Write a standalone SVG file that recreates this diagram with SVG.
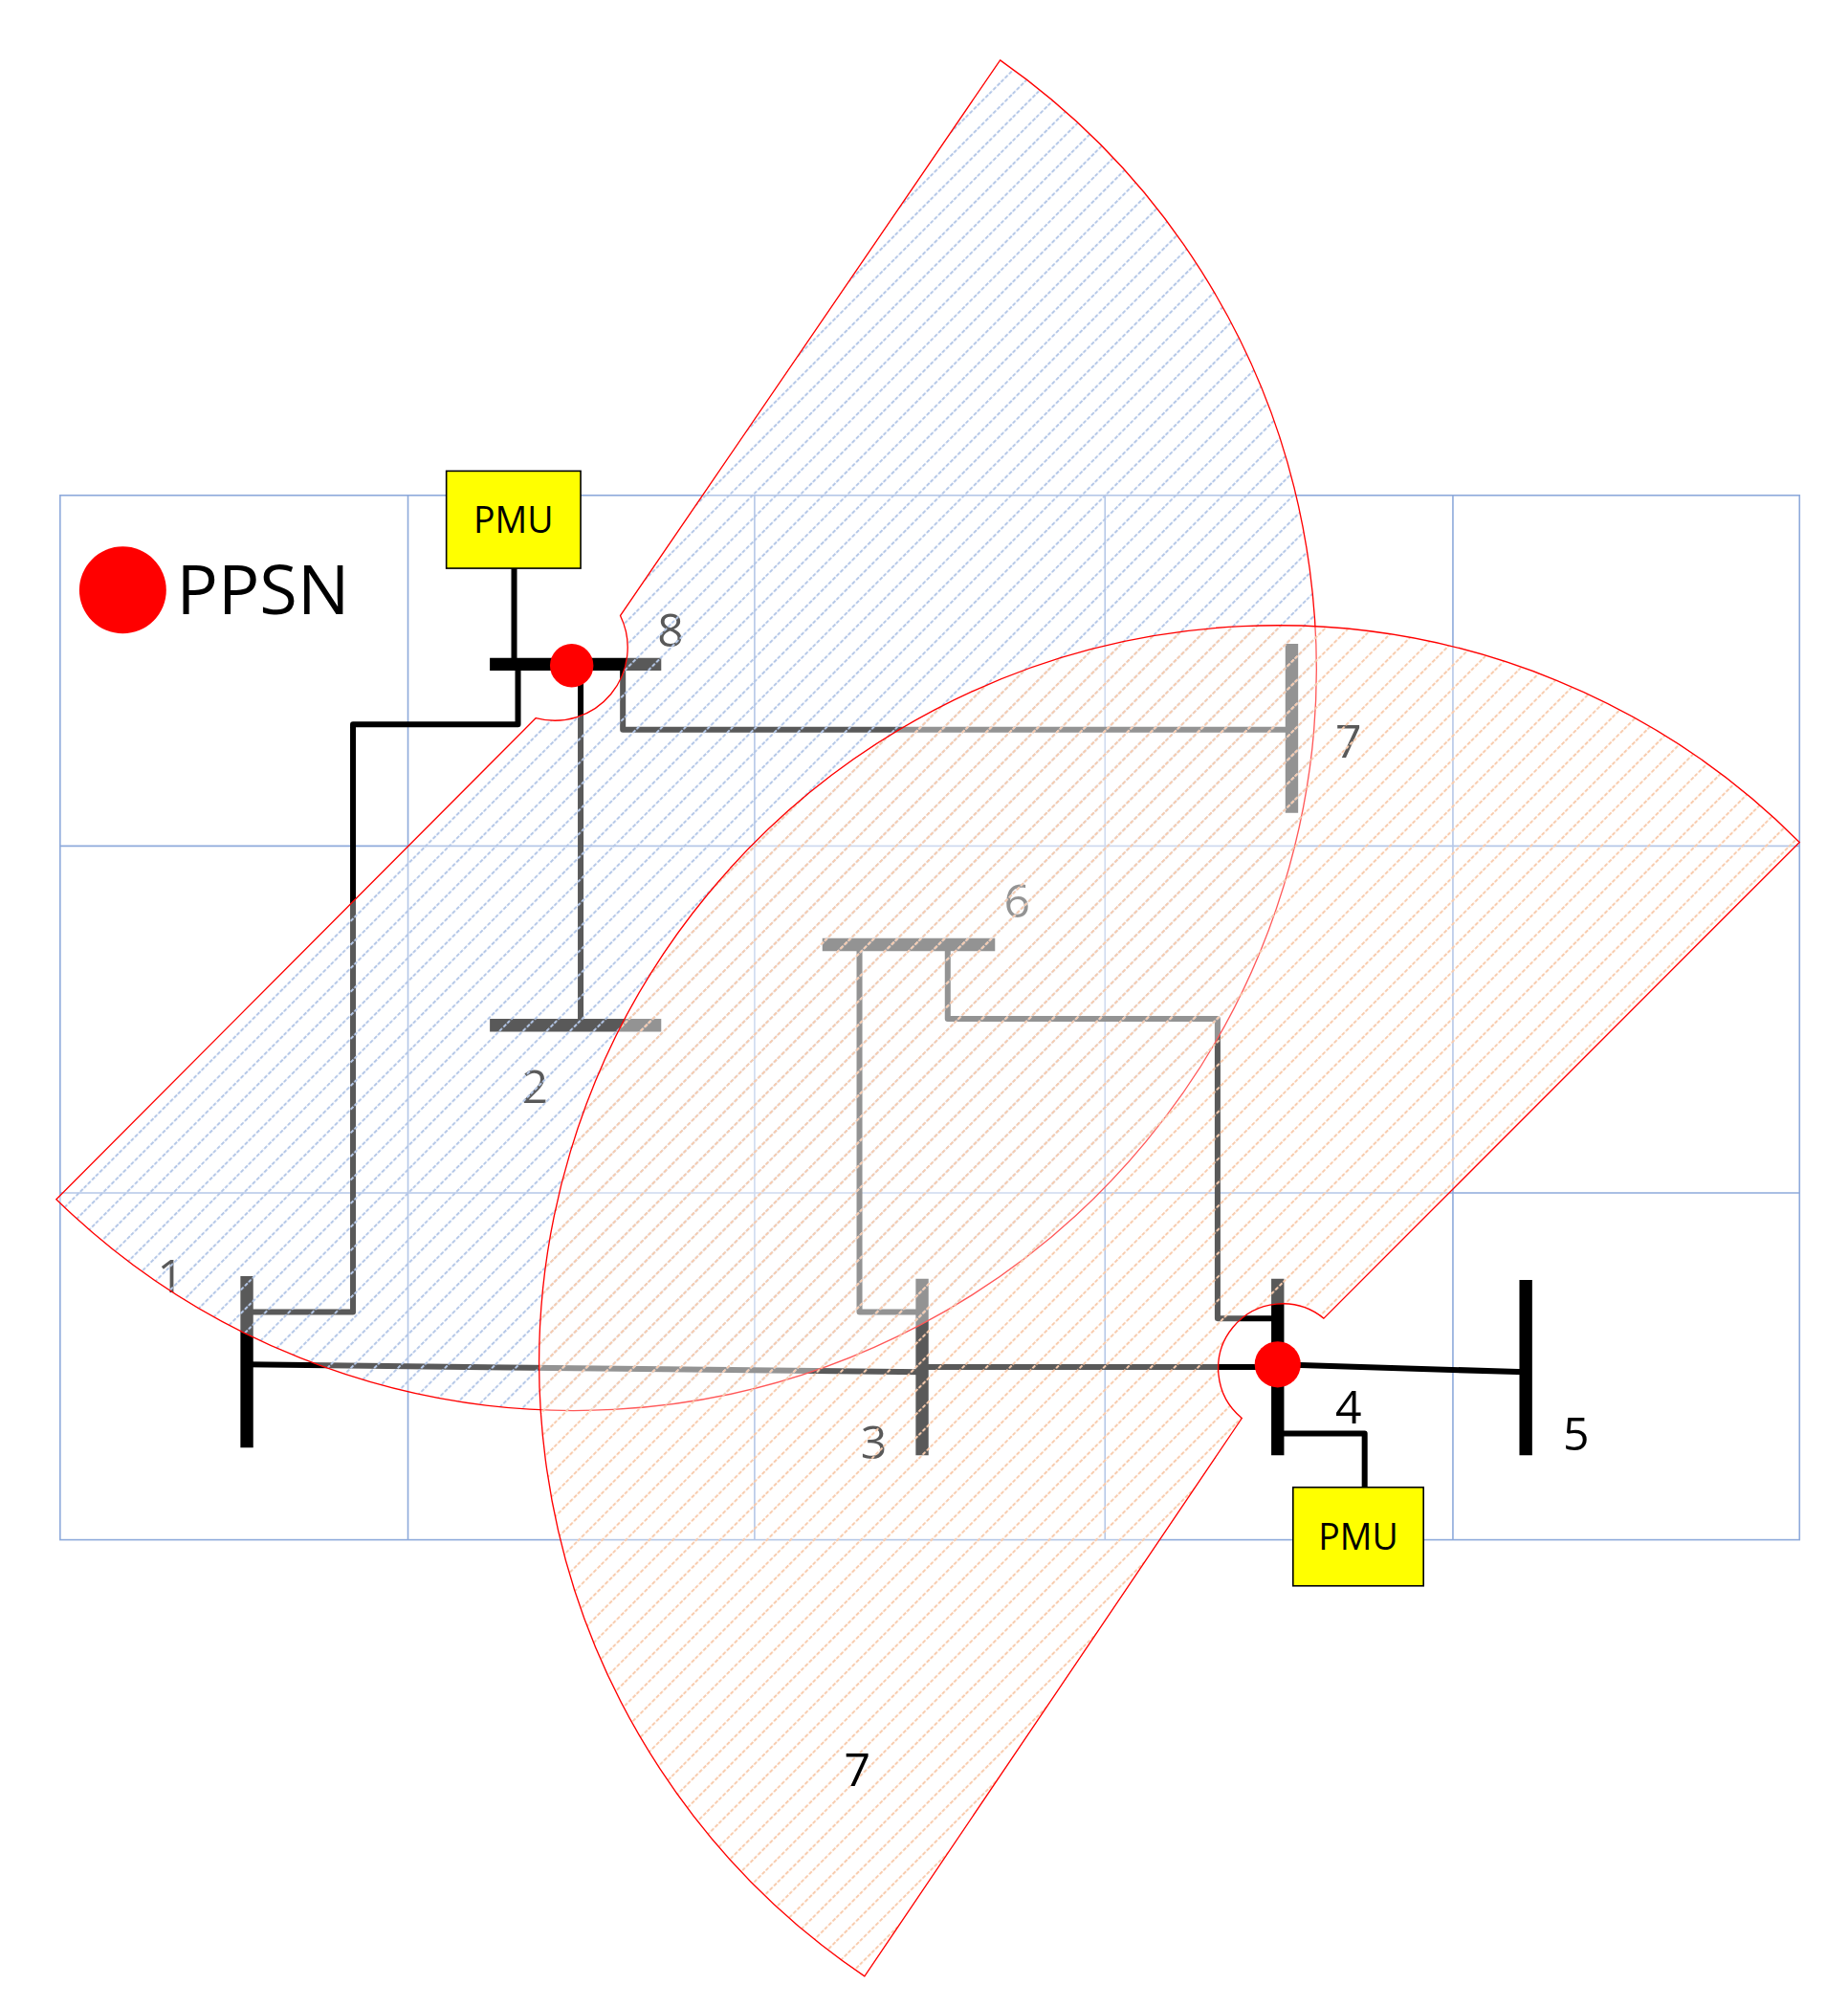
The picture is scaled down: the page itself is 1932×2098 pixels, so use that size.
<svg xmlns="http://www.w3.org/2000/svg" width="1932" height="2098" viewBox="0 0 1932 2098">
<style>
.grid{stroke:#8eaadb;stroke-width:1.2;fill:none}
.bus{stroke:#000;stroke-width:10;fill:none}
.ln{stroke:#000;stroke-width:4.5;fill:none;stroke-linejoin:round;stroke-linecap:round}
.lbl{font-family:"Open Sans","Liberation Sans",sans-serif;font-size:36px;fill:#000}
.pmu{fill:#ffff00;stroke:#000;stroke-width:1.2}
.pmut{font-family:"Open Sans","Liberation Sans",sans-serif;font-size:28px;fill:#000;text-anchor:middle}
</style>
<defs>
<pattern id="hb" patternUnits="userSpaceOnUse" width="13" height="13" patternTransform="rotate(45)">
<line x1="0" y1="0" x2="0" y2="13" stroke="#b4c7e7" stroke-width="3" stroke-dasharray="3 1.5"/>
</pattern>
<pattern id="ho" patternUnits="userSpaceOnUse" width="13" height="13" patternTransform="rotate(45)">
<line x1="0" y1="0" x2="0" y2="13" stroke="#f8cbad" stroke-width="3" stroke-dasharray="3 1.5"/>
</pattern>
</defs>
<rect width="1932" height="2098" fill="#fff"/>
<g transform="scale(1.3371,1.338)">
<g id="grid" class="grid">
<rect x="47" y="387" width="1360" height="816"/>
<line x1="319" y1="387" x2="319" y2="1203"/><line x1="590" y1="387" x2="590" y2="1203"/>
<line x1="864" y1="387" x2="864" y2="1203"/><line x1="1136" y1="387" x2="1136" y2="1203"/>
<line x1="47" y1="661" x2="1407" y2="661"/><line x1="47" y1="932" x2="1407" y2="932"/>
</g>
<g id="connectors" class="ln">
<polyline points="405,519 405,566 276,566 276,1025 193,1025"/>
<line x1="454" y1="520" x2="454" y2="801"/>
<polyline points="487,519 487,570 1010,570"/>
<line x1="193" y1="1066" x2="721" y2="1072"/>
<line x1="721" y1="1068" x2="999" y2="1068"/>
<line x1="999" y1="1066" x2="1193" y2="1072"/>
<polyline points="672,738 672,1025 721,1025"/>
<polyline points="741,738 741,796 952,796 952,1030 999,1030"/>
<line x1="402" y1="444" x2="402" y2="519"/>
<polyline points="1003,1120 1067,1120 1067,1162"/>
</g>
<g id="bus8"><line class="bus" x1="383" y1="519" x2="517" y2="519"/><text class="lbl" x="514" y="505">8</text></g>
<g id="bus7"><line class="bus" x1="1010" y1="503" x2="1010" y2="635"/><text class="lbl" x="1044" y="592">7</text></g>
<g id="bus6"><line class="bus" x1="643" y1="738" x2="778" y2="738"/><text class="lbl" x="785" y="717">6</text></g>
<g id="bus2"><line class="bus" x1="383" y1="801" x2="517" y2="801"/><text class="lbl" x="408" y="862">2</text></g>
<g id="bus1"><line class="bus" x1="193" y1="997" x2="193" y2="1131"/><text class="lbl" x="123" y="1010">1</text></g>
<g id="bus3"><line class="bus" x1="721" y1="999" x2="721" y2="1137"/><text class="lbl" x="673" y="1140">3</text></g>
<g id="bus4"><line class="bus" x1="999" y1="999" x2="999" y2="1137"/><text class="lbl" x="1044" y="1112">4</text></g>
<g id="bus5"><line class="bus" x1="1193" y1="1000" x2="1193" y2="1137"/><text class="lbl" x="1222" y="1133">5</text></g>
<g id="zone-blue">
<path d="M782,47 A580,580 0 1 1 44,937 L419,561 A57,57 0 0 0 485,481 Z" fill="#fff" fill-opacity="0.35" stroke="none"/>
<path d="M782,47 A580,580 0 1 1 44,937 L419,561 A57,57 0 0 0 485,481 Z" fill="url(#hb)" stroke="#ff0000" stroke-width="1"/>
</g>
<g id="zone-orange">
<path d="M1407,658 A577,577 0 1 0 676,1544 L971,1108 A50,50 0 1 1 1035,1030 Z" fill="#fff" fill-opacity="0.35" stroke="none"/>
<path d="M1407,658 A577,577 0 1 0 676,1544 L971,1108 A50,50 0 1 1 1035,1030 Z" fill="url(#ho)" stroke="#ff0000" stroke-width="1"/>
<text class="lbl" x="660" y="1395" fill="#333">7</text>
</g>
<g id="pmu8"><rect class="pmu" x="349" y="368" width="105" height="76"/><text class="pmut" x="401.5" y="416">PMU</text></g>
<g id="pmu4"><rect class="pmu" x="1011" y="1162" width="102" height="77"/><text class="pmut" x="1062" y="1211">PMU</text></g>
<g id="ppsn8"><circle cx="447" cy="520" r="17" fill="#ff0000"/></g>
<g id="ppsn4"><circle cx="999" cy="1066" r="18" fill="#ff0000"/></g>
<g id="legend"><circle cx="96" cy="461" r="34" fill="#ff0000"/><text x="138" y="480" font-family="Open Sans, Liberation Sans, sans-serif" font-size="54">PPSN</text></g>
</g>
</svg>
